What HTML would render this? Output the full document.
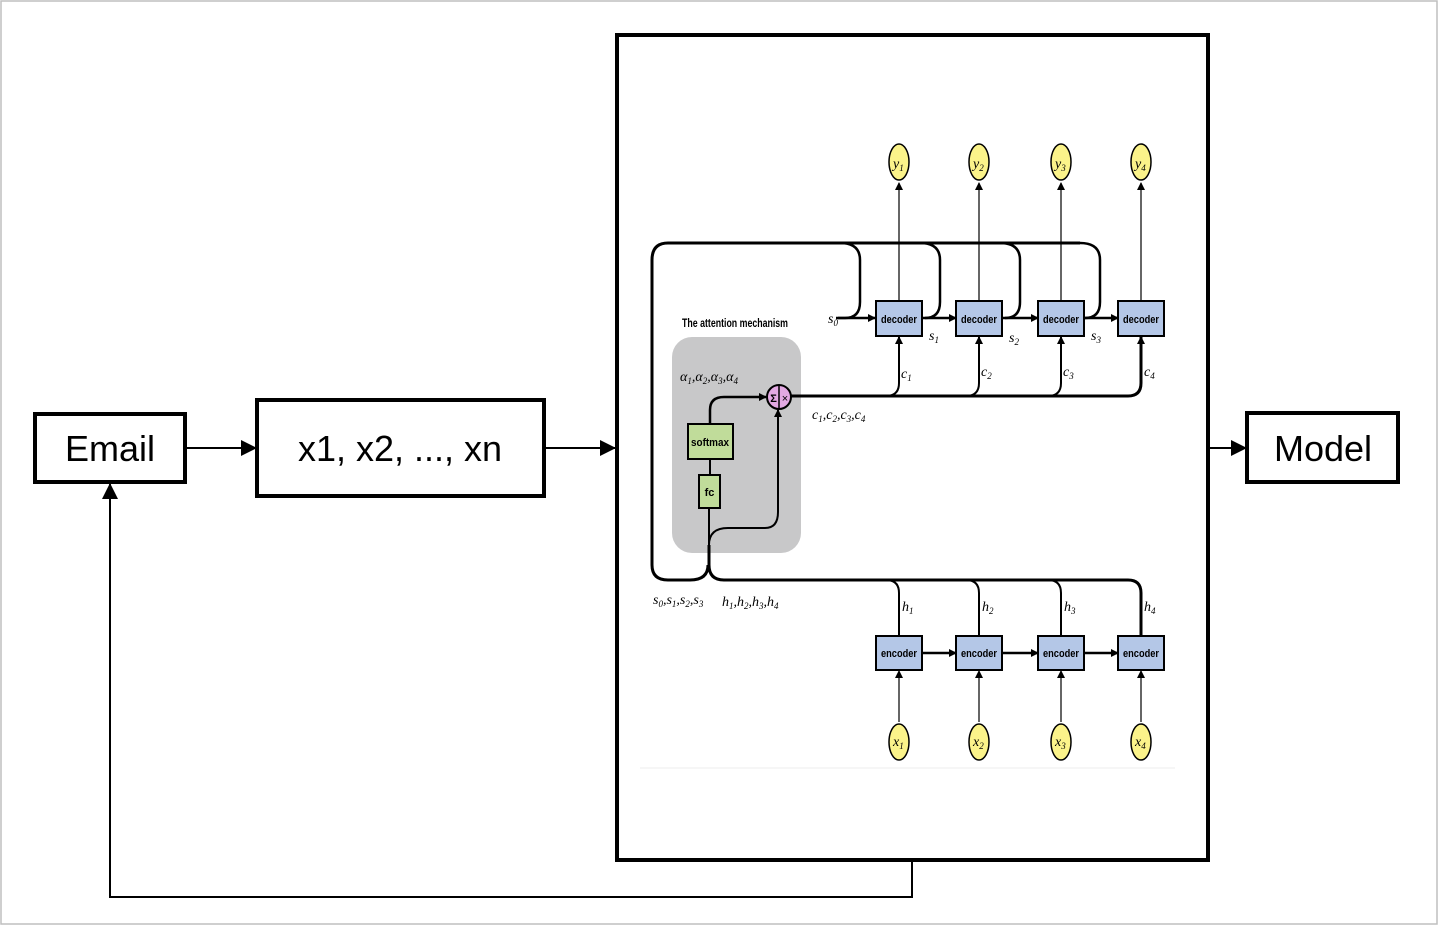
<!DOCTYPE html>
<html><head><meta charset="utf-8"><style>
html,body{margin:0;padding:0;background:#fff}
svg{display:block}
text{font-family:"Liberation Sans",sans-serif}
.n{font-family:"Liberation Sans",sans-serif;font-size:11px;font-weight:bold;text-anchor:middle}
.i{font-family:"Liberation Serif",serif;font-style:italic;font-size:14px}
</style></head><body>
<svg width="1439" height="926" viewBox="0 0 1439 926" xmlns="http://www.w3.org/2000/svg">
<defs>
<marker id="b" markerWidth="16" markerHeight="16" refX="15" refY="8" orient="auto" markerUnits="userSpaceOnUse"><path d="M0,0 L16,8 L0,16 z" fill="#000"/></marker>
<marker id="s" markerWidth="8" markerHeight="8" refX="7" refY="4" orient="auto" markerUnits="userSpaceOnUse"><path d="M0,0 L8,4 L0,8 z" fill="#000"/></marker>
</defs>
<rect x="1" y="1" width="1436" height="923" fill="#fff" stroke="#bfbfbf" stroke-width="1.5"/>
<rect x="35" y="414" width="150" height="68" fill="#fff" stroke="#000" stroke-width="4"/>
<text x="110" y="461" font-size="36" text-anchor="middle">Email</text>
<rect x="257" y="400" width="287" height="96" fill="#fff" stroke="#000" stroke-width="4"/>
<text x="400" y="461" font-size="36" text-anchor="middle">x1, x2, ..., xn</text>
<rect x="617" y="35" width="591" height="825" fill="#fff" stroke="#000" stroke-width="4"/>
<rect x="1247" y="413" width="151" height="69" fill="#fff" stroke="#000" stroke-width="4"/>
<text x="1323" y="461" font-size="36" text-anchor="middle">Model</text>
<g stroke="#000" stroke-width="2" fill="none">
<line x1="187" y1="448" x2="256" y2="448" marker-end="url(#b)"/>
<line x1="546" y1="448" x2="615" y2="448" marker-end="url(#b)"/>
<line x1="1210" y1="448" x2="1246" y2="448" marker-end="url(#b)"/>
<polyline points="912,862 912,897 110,897 110,484" marker-end="url(#b)"/>
</g>
<line x1="640" y1="768" x2="1175" y2="768" stroke="#eee" stroke-width="1"/>
<rect x="672" y="337" width="129" height="216" rx="20" fill="#c8c8c9"/>
<text x="735" y="327" font-size="12" font-weight="bold" text-anchor="middle" textLength="106" lengthAdjust="spacingAndGlyphs">The attention mechanism</text>
<g stroke="#000" fill="none">
<path d="M1080,243 L668,243 Q652,243 652,260 L652,565 Q652,580 668,580 L690,580 Q708,580 708,565" stroke-width="3"/>
<path d="M840,243 Q860,243 860,260 L860,302 Q860,318 845,318 L836,318" stroke-width="2.5"/>
<path d="M920,243 Q940,243 940,260 L940,302 Q940,318 925,318" stroke-width="2.5"/>
<path d="M1000,243 Q1020,243 1020,260 L1020,302 Q1020,318 1005,318" stroke-width="2.5"/>
<path d="M1080,243 Q1100,243 1100,260 L1100,302 Q1100,318 1085,318" stroke-width="2.5"/>
<line x1="838" y1="318" x2="875" y2="318" stroke-width="2.5" marker-end="url(#s)"/>
<line x1="922" y1="318" x2="956" y2="318" stroke-width="2.5" marker-end="url(#s)"/>
<line x1="1002" y1="318" x2="1038" y2="318" stroke-width="2.5" marker-end="url(#s)"/>
<line x1="1084" y1="318" x2="1118" y2="318" stroke-width="2.5" marker-end="url(#s)"/>
<line x1="899" y1="301" x2="899" y2="183" stroke-width="1.2" marker-end="url(#s)"/>
<line x1="979" y1="301" x2="979" y2="183" stroke-width="1.2" marker-end="url(#s)"/>
<line x1="1061" y1="301" x2="1061" y2="183" stroke-width="1.2" marker-end="url(#s)"/>
<line x1="1141" y1="301" x2="1141" y2="183" stroke-width="1.2" marker-end="url(#s)"/>
<path d="M791,396 L1128,396 Q1141,396 1141,383 L1141,337" stroke-width="3" marker-end="url(#s)"/>
<path d="M886,396 Q899,396 899,383 L899,337" stroke-width="2" marker-end="url(#s)"/>
<path d="M966,396 Q979,396 979,383 L979,337" stroke-width="2" marker-end="url(#s)"/>
<path d="M1048,396 Q1061,396 1061,383 L1061,337" stroke-width="2" marker-end="url(#s)"/>
<path d="M710,424 L710,410 Q710,397 724,397 L766,397" stroke-width="2.5" marker-end="url(#s)"/>
<line x1="710" y1="459" x2="710" y2="475" stroke-width="2"/>
<path d="M709,508 L709,545 Q709,528 728,528 L765,528 Q778,528 778,512 L778,410" stroke-width="2" marker-end="url(#s)"/>
<path d="M709,545 L709,565 Q709,580 724,580 L1128,580 Q1141,580 1141,593 L1141,636" stroke-width="3"/>
<path d="M886,580 Q899,580 899,593 L899,636" stroke-width="2"/>
<path d="M966,580 Q979,580 979,593 L979,636" stroke-width="2"/>
<path d="M1048,580 Q1061,580 1061,593 L1061,636" stroke-width="2"/>
<line x1="922" y1="653" x2="956" y2="653" stroke-width="2.5" marker-end="url(#s)"/>
<line x1="1002" y1="653" x2="1038" y2="653" stroke-width="2.5" marker-end="url(#s)"/>
<line x1="1084" y1="653" x2="1118" y2="653" stroke-width="2.5" marker-end="url(#s)"/>
<line x1="899" y1="722" x2="899" y2="671" stroke-width="1.2" marker-end="url(#s)"/>
<line x1="979" y1="722" x2="979" y2="671" stroke-width="1.2" marker-end="url(#s)"/>
<line x1="1061" y1="722" x2="1061" y2="671" stroke-width="1.2" marker-end="url(#s)"/>
<line x1="1141" y1="722" x2="1141" y2="671" stroke-width="1.2" marker-end="url(#s)"/>
</g>
<g stroke="#000" stroke-width="2">
<rect x="688" y="424" width="45" height="35" fill="#c0dc9a"/>
<rect x="699" y="475" width="21" height="33" fill="#c0dc9a"/>
<circle cx="779" cy="397" r="12" fill="#e3a9e3"/>
<line x1="779" y1="385" x2="779" y2="409" stroke-width="1.5"/>
</g>
<text x="710" y="446" class="n" textLength="38" lengthAdjust="spacingAndGlyphs">softmax</text>
<text x="709.5" y="496" class="n">fc</text>
<text x="773.5" y="402" font-size="11" font-weight="bold" text-anchor="middle">Σ</text>
<text x="785" y="402" font-size="11" text-anchor="middle">×</text>
<g stroke="#000" stroke-width="2" fill="#b4c7e7">
<rect x="876" y="301" width="46" height="35"/><rect x="956" y="301" width="46" height="35"/><rect x="1038" y="301" width="46" height="35"/><rect x="1118" y="301" width="46" height="35"/>
<rect x="876" y="636" width="46" height="34"/><rect x="956" y="636" width="46" height="34"/><rect x="1038" y="636" width="46" height="34"/><rect x="1118" y="636" width="46" height="34"/>
</g>
<text x="899" y="323" class="n" textLength="36" lengthAdjust="spacingAndGlyphs">decoder</text><text x="979" y="323" class="n" textLength="36" lengthAdjust="spacingAndGlyphs">decoder</text><text x="1061" y="323" class="n" textLength="36" lengthAdjust="spacingAndGlyphs">decoder</text><text x="1141" y="323" class="n" textLength="36" lengthAdjust="spacingAndGlyphs">decoder</text>
<text x="899" y="657" class="n" textLength="36" lengthAdjust="spacingAndGlyphs">encoder</text><text x="979" y="657" class="n" textLength="36" lengthAdjust="spacingAndGlyphs">encoder</text><text x="1061" y="657" class="n" textLength="36" lengthAdjust="spacingAndGlyphs">encoder</text><text x="1141" y="657" class="n" textLength="36" lengthAdjust="spacingAndGlyphs">encoder</text>
<g stroke="#000" stroke-width="1.5" fill="#fbf38a">
<ellipse cx="899" cy="162" rx="10" ry="18"/><ellipse cx="979" cy="162" rx="10" ry="18"/><ellipse cx="1061" cy="162" rx="10" ry="18"/><ellipse cx="1141" cy="162" rx="10" ry="18"/>
<ellipse cx="899" cy="742" rx="10" ry="18"/><ellipse cx="979" cy="742" rx="10" ry="18"/><ellipse cx="1061" cy="742" rx="10" ry="18"/><ellipse cx="1141" cy="742" rx="10" ry="18"/>
</g>
<g>
<text x="893" y="168" class="i">y<tspan font-size="9" dy="3">1</tspan></text>
<text x="973" y="168" class="i">y<tspan font-size="9" dy="3">2</tspan></text>
<text x="1055" y="168" class="i">y<tspan font-size="9" dy="3">3</tspan></text>
<text x="1135" y="168" class="i">y<tspan font-size="9" dy="3">4</tspan></text>
<text x="893" y="746" class="i">x<tspan font-size="9" dy="3">1</tspan></text>
<text x="973" y="746" class="i">x<tspan font-size="9" dy="3">2</tspan></text>
<text x="1055" y="746" class="i">x<tspan font-size="9" dy="3">3</tspan></text>
<text x="1135" y="746" class="i">x<tspan font-size="9" dy="3">4</tspan></text>
<text x="828" y="323" class="i">s<tspan font-size="9" dy="3">0</tspan></text>
<text x="929" y="340" class="i">s<tspan font-size="9" dy="3">1</tspan></text>
<text x="1009" y="342" class="i">s<tspan font-size="9" dy="3">2</tspan></text>
<text x="1091" y="340" class="i">s<tspan font-size="9" dy="3">3</tspan></text>
<text x="901" y="378" class="i">c<tspan font-size="9" dy="3">1</tspan></text>
<text x="981" y="376" class="i">c<tspan font-size="9" dy="3">2</tspan></text>
<text x="1063" y="376" class="i">c<tspan font-size="9" dy="3">3</tspan></text>
<text x="1144" y="376" class="i">c<tspan font-size="9" dy="3">4</tspan></text>
<text x="902" y="611" class="i">h<tspan font-size="9" dy="3">1</tspan></text>
<text x="982" y="611" class="i">h<tspan font-size="9" dy="3">2</tspan></text>
<text x="1064" y="611" class="i">h<tspan font-size="9" dy="3">3</tspan></text>
<text x="1144" y="611" class="i">h<tspan font-size="9" dy="3">4</tspan></text>
<text x="680" y="381" class="i">α<tspan font-size="9" dy="3">1</tspan><tspan dy="-3">,α</tspan><tspan font-size="9" dy="3">2</tspan><tspan dy="-3">,α</tspan><tspan font-size="9" dy="3">3</tspan><tspan dy="-3">,α</tspan><tspan font-size="9" dy="3">4</tspan></text>
<text x="812" y="419" class="i">c<tspan font-size="9" dy="3">1</tspan><tspan dy="-3">,c</tspan><tspan font-size="9" dy="3">2</tspan><tspan dy="-3">,c</tspan><tspan font-size="9" dy="3">3</tspan><tspan dy="-3">,c</tspan><tspan font-size="9" dy="3">4</tspan></text>
<text x="653" y="604" class="i">s<tspan font-size="9" dy="3">0</tspan><tspan dy="-3">,s</tspan><tspan font-size="9" dy="3">1</tspan><tspan dy="-3">,s</tspan><tspan font-size="9" dy="3">2</tspan><tspan dy="-3">,s</tspan><tspan font-size="9" dy="3">3</tspan></text>
<text x="722" y="606" class="i">h<tspan font-size="9" dy="3">1</tspan><tspan dy="-3">,h</tspan><tspan font-size="9" dy="3">2</tspan><tspan dy="-3">,h</tspan><tspan font-size="9" dy="3">3</tspan><tspan dy="-3">,h</tspan><tspan font-size="9" dy="3">4</tspan></text>
</g>
</svg>
</body></html>
